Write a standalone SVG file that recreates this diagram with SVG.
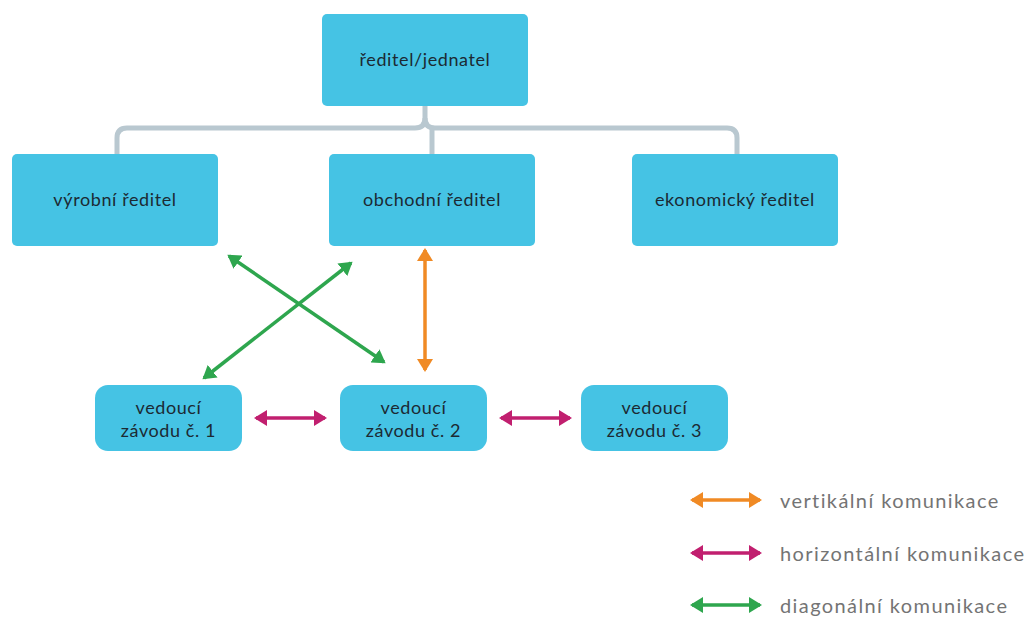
<svg xmlns="http://www.w3.org/2000/svg" width="1030" height="617" viewBox="0 0 1030 617">
<defs>
<style>
.box{fill:#45c3e4;}
.t{font-family:Lato,"Liberation Sans",sans-serif;font-size:18px;letter-spacing:0.6px;fill:#1c2a33;text-anchor:middle;}
.lg{font-family:Lato,"Liberation Sans",sans-serif;font-size:20px;letter-spacing:1.4px;fill:#747474;}
.tree{fill:none;stroke:#b9c8d0;stroke-width:5;}
.o{stroke:#f08a24;stroke-width:3.5;fill:none;marker-start:url(#ao);marker-end:url(#ao);}
.m{stroke:#c11f6f;stroke-width:3.5;fill:none;marker-start:url(#am);marker-end:url(#am);}
.g{stroke:#2ea64e;stroke-width:3.5;fill:none;marker-start:url(#ag);marker-end:url(#ag);}
</style>
<marker id="ao" markerUnits="userSpaceOnUse" markerWidth="14" markerHeight="16" refX="11" refY="8" orient="auto-start-reverse"><path d="M0,0 L13,8 L0,16 z" fill="#f08a24"/></marker>
<marker id="am" markerUnits="userSpaceOnUse" markerWidth="14" markerHeight="16" refX="11" refY="8" orient="auto-start-reverse"><path d="M0,0 L13,8 L0,16 z" fill="#c11f6f"/></marker>
<marker id="ag" markerUnits="userSpaceOnUse" markerWidth="14" markerHeight="16" refX="11" refY="8" orient="auto-start-reverse"><path d="M0,0 L13,8 L0,16 z" fill="#2ea64e"/></marker>
</defs>
<rect width="1030" height="617" fill="#ffffff"/>
<g id="connectors">
<path class="tree" d="M425,104 V118 Q425,128 415,128 H127 Q117,128 117,138 V156"/>
<path class="tree" d="M425,118 Q425,128 435,128 H727 Q737,128 737,138 V156"/>
<path class="tree" d="M432,128 V156"/>
<path class="o" d="M425,250 V370"/>
<path class="m" d="M256,418 H325"/>
<path class="m" d="M501,418 H570"/>
<path class="g" d="M229,256 L384,362"/>
<path class="g" d="M351,263 L204,378"/>
</g>
<g id="n-reditel"><rect class="box" x="322" y="14" width="206" height="92" rx="5"/><text class="t" x="425" y="66">ředitel/jednatel</text></g>
<g id="n-vyrobni"><rect class="box" x="12" y="154" width="206" height="92" rx="5"/><text class="t" x="115" y="206">výrobní ředitel</text></g>
<g id="n-obchodni"><rect class="box" x="329" y="154" width="206" height="92" rx="5"/><text class="t" x="432" y="206">obchodní ředitel</text></g>
<g id="n-ekonomicky"><rect class="box" x="632" y="154" width="206" height="92" rx="5"/><text class="t" x="735" y="206">ekonomický ředitel</text></g>
<g id="n-v1"><rect class="box" x="95" y="385" width="147" height="66" rx="13"/><text class="t" x="168.5" y="414">vedoucí</text><text class="t" x="168.5" y="437">závodu č. 1</text></g>
<g id="n-v2"><rect class="box" x="340" y="385" width="147" height="66" rx="13"/><text class="t" x="413.5" y="414">vedoucí</text><text class="t" x="413.5" y="437">závodu č. 2</text></g>
<g id="n-v3"><rect class="box" x="581" y="385" width="147" height="66" rx="13"/><text class="t" x="654.5" y="414">vedoucí</text><text class="t" x="654.5" y="437">závodu č. 3</text></g>
<g id="legend">
<path class="o" d="M692,500 H760"/>
<text class="lg" x="780" y="508">vertikální komunikace</text>
<path class="m" d="M692,553 H760"/>
<text class="lg" x="780" y="561">horizontální komunikace</text>
<path class="g" d="M692,605 H760"/>
<text class="lg" x="780" y="613">diagonální komunikace</text>
</g>
</svg>
